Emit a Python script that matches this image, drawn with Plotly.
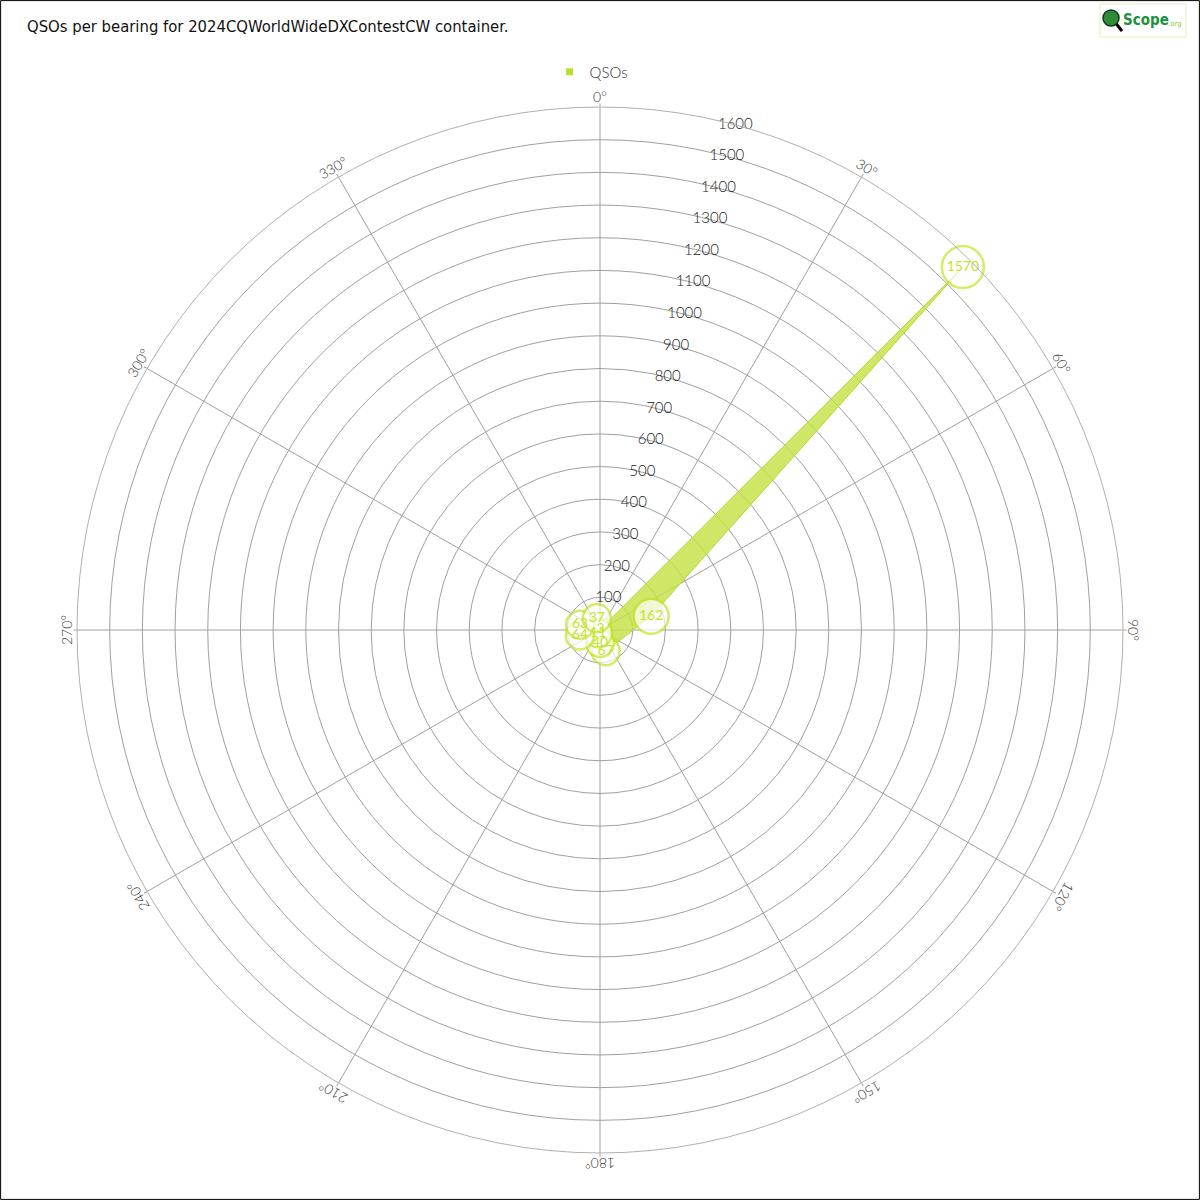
import math
import plotly.graph_objects as go

# ---- data ----
bearings = [30, 45, 75, 165, 180, 210, 255, 285, 345]
qsos = [3, 1570, 162, 67, 40, 11, 64, 63, 37]
radial_ticks = list(range(100, 1700, 100))
angular_ticks = list(range(0, 360, 30))
title_text = "QSOs per bearing for 2024CQWorldWideDXContestCW container."
series_name = "QSOs"

GREEN_FILL = "rgba(196,226,70,0.82)"
GREEN_LINE = "#b4d634"
GREEN_LABEL = "#c4e42c"
GRID = "#a0a0a0"
FONT = "Lato"

# polar geometry (paper units, square figure)
CX, CY, R = 0.5, 1 - 630 / 1200, 523 / 1200

fig = go.Figure()

fig.add_trace(go.Scatterpolar(
    theta=bearings, r=qsos, mode="lines", fill="toself",
    fillcolor=GREEN_FILL, line=dict(color=GREEN_LINE, width=1),
    showlegend=False, hoverinfo="skip",
))

fig.add_trace(go.Scatterpolar(
    theta=[15] * len(radial_ticks), r=radial_ticks, mode="text",
    text=[str(v) for v in radial_ticks],
    textfont=dict(family=FONT, size=15, color="#222222", weight=300),
    showlegend=False, hoverinfo="skip",
))

sizes = [14 + 7 * len(str(v)) for v in qsos]
fig.add_trace(go.Scatterpolar(
    theta=bearings, r=qsos, mode="markers+text",
    text=[str(v) for v in qsos], textposition="middle center",
    textfont=dict(family=FONT, size=14, color=GREEN_LABEL, weight=400),
    marker=dict(size=sizes, color="white", line=dict(color=GREEN_LABEL, width=2.5)),
    showlegend=False, hoverinfo="skip",
))

# legend entry
fig.add_trace(go.Scatterpolar(
    theta=[None], r=[None], mode="markers", name=series_name,
    marker=dict(symbol="square", size=7, color="#b8e02a"),
))

fig.update_layout(
    width=1200, height=1200,
    margin=dict(l=0, r=0, t=0, b=0),
    paper_bgcolor="white", plot_bgcolor="white",
    showlegend=True,
    legend=dict(orientation="h", x=0.493, xanchor="center", y=1 - 72 / 1200, yanchor="middle",
                font=dict(family=FONT, size=15, color="#333333", weight=300),
                itemwidth=30, bgcolor="rgba(0,0,0,0)"),
    polar=dict(
        domain=dict(x=[CX - R, CX + R], y=[CY - R, CY + R]),
        bgcolor="white",
        radialaxis=dict(range=[0, 1600], dtick=100, tick0=0, showticklabels=False,
                        showline=False, ticks="", gridcolor=GRID, gridwidth=1, angle=90),
        angularaxis=dict(rotation=90, direction="clockwise", dtick=30, tick0=0,
                         showticklabels=False, ticks="outside", ticklen=3, tickcolor=GRID,
                         showline=True, linecolor="#b0b0b0", linewidth=1,
                         gridcolor=GRID, gridwidth=1),
    ),
)

annotations = [
    dict(text=title_text, x=25 / 1200, y=1 - 27 / 1200, xref="paper", yref="paper",
         xanchor="left", yanchor="middle", showarrow=False,
         font=dict(family="DejaVu Sans Condensed", size=16.5, color="#111111")),
]
RL = 534 / 1200
for a in angular_ticks:
    ang = a if a <= 180 else a - 360
    annotations.append(dict(
        text=f"{a}°", x=CX + RL * math.sin(math.radians(a)), y=CY + RL * math.cos(math.radians(a)),
        xref="paper", yref="paper", xanchor="center", yanchor="middle", showarrow=False,
        textangle=ang, font=dict(family=FONT, size=14, color="#333333", weight=300)))

# logo
annotations.append(dict(text="<b>Scope</b>",
                        x=1121 / 1200, y=1 - 20 / 1200, xref="paper", yref="paper",
                        xanchor="left", yanchor="middle", showarrow=False,
                        font=dict(family="DejaVu Sans Condensed", size=15, color="#1d9140")))
annotations.append(dict(text=".org",
                        x=1166 / 1200, y=1 - 24 / 1200, xref="paper", yref="paper",
                        xanchor="left", yanchor="middle", showarrow=False,
                        font=dict(family="DejaVu Sans", size=7, color="#8cc63f")))
fig.update_layout(annotations=annotations)

shapes = [
    dict(type="rect", xref="paper", yref="paper", x0=0.0005, x1=0.9995, y0=0.0005, y1=0.9995,
         line=dict(color="black", width=1), fillcolor="rgba(0,0,0,0)"),
    dict(type="rect", xref="paper", yref="paper", x0=1100 / 1200, x1=1186 / 1200,
         y0=1 - 37 / 1200, y1=1 - 4 / 1200, line=dict(color="#e4efc0", width=1),
         fillcolor="white"),
    dict(type="line", xref="paper", yref="paper", x0=1114 / 1200, y0=1 - 21 / 1200,
         x1=1122 / 1200, y1=1 - 31 / 1200, line=dict(color="black", width=3)),
    dict(type="circle", xref="paper", yref="paper", x0=1103 / 1200, x1=1119 / 1200,
         y0=1 - 26 / 1200, y1=1 - 10 / 1200, line=dict(color="#0d3d18", width=1.5),
         fillcolor="#2f8a3a"),
]
fig.update_layout(shapes=shapes)

fig.write_html("out.html", post_script="document.body.style.margin='0';",
               config={"displayModeBar": False})
